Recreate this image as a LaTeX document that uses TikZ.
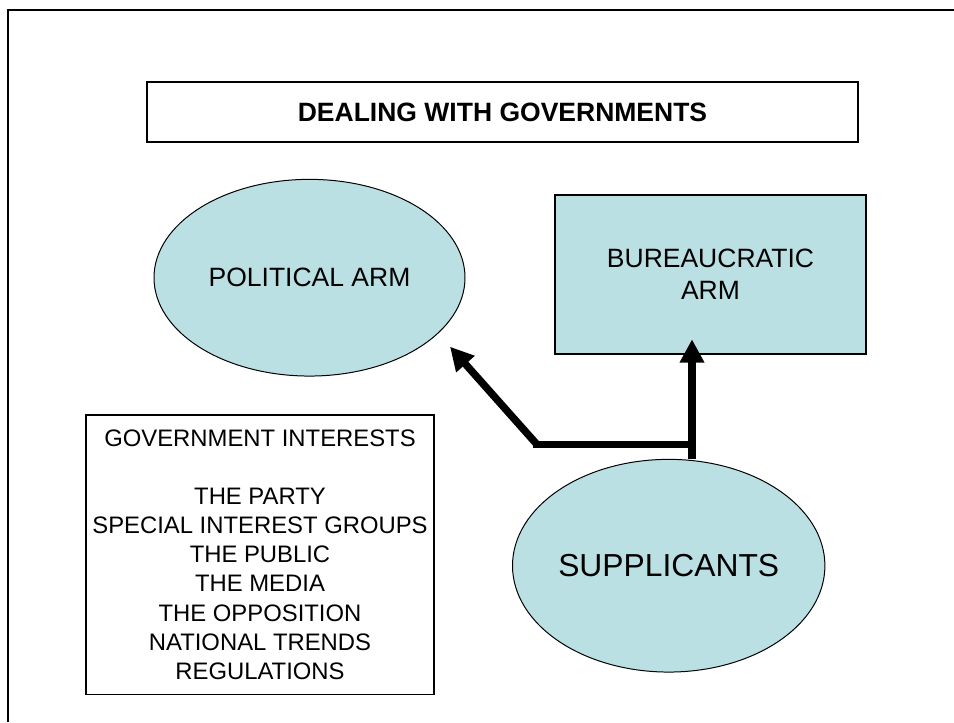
\documentclass[tikz,border=0pt]{standalone}
\usepackage{fontspec}
\setmainfont{Liberation Sans}
\usetikzlibrary{arrows.meta,shapes.geometric}
\definecolor{shapefill}{RGB}{187,224,227}
\newcommand{\pxu}{0.7547pt}
\begin{document}
\begin{tikzpicture}[x=0.7547pt,y=-0.7547pt,
  frameline/.style={line width=1.5pt,black},
  boxshape/.style={draw=black,line width=1pt,rectangle,inner sep=0pt,align=center},
  ovalshape/.style={draw=black,line width=0.75pt,ellipse,inner sep=0pt,fill=shapefill,align=center},
  thickarrow/.style={line width=5.6pt,-{Triangle[length=17.6pt,width=17.6pt]}},
  thickbar/.style={line width=5.6pt}]
\useasboundingbox (0,0) rectangle (954,722);
\draw[frameline] (8,722) -- (8,10) -- (954,10);

\node[boxshape,minimum width=711*\pxu,minimum height=60*\pxu,font=\fontsize{20}{24}\selectfont\bfseries] (title) at (502.5,112) {DEALING WITH GOVERNMENTS};

\node[ovalshape,minimum width=311*\pxu,minimum height=196.7*\pxu,font=\fontsize{20}{24}\selectfont] (pol) at (309.5,277.7) {POLITICAL ARM};

\node[boxshape,fill=shapefill,minimum width=311*\pxu,minimum height=159*\pxu,font=\fontsize{20}{24}\selectfont] (bur) at (710.5,274.5) {BUREAUCRATIC\\ARM};

\node[boxshape,minimum width=348*\pxu,minimum height=279.3*\pxu,font=\fontsize{18}{22}\selectfont] (gov) at (260,554.5) {GOVERNMENT INTERESTS\\[22pt]THE PARTY\\SPECIAL INTEREST GROUPS\\THE PUBLIC\\THE MEDIA\\THE OPPOSITION\\NATIONAL TRENDS\\REGULATIONS};

\node[ovalshape,minimum width=272.7*\pxu,minimum height=212.7*\pxu,font=\fontsize{24}{28}\selectfont] (supp) at (668.7,565.7) {SUPPLICANTS};

\coordinate (jr) at (692,444.5);
\coordinate (jl) at (537,444.5);
\coordinate (barend) at (533.3,444.5);
\coordinate (tb) at (692,339.3);
\coordinate (tp) at (450,346.7);

\draw[thickbar] (barend) -- (jr);
\draw[thickarrow] (jr |- supp.north) -- (tb);
\draw[thickarrow] (jl) -- (tp);
\end{tikzpicture}
\end{document}
